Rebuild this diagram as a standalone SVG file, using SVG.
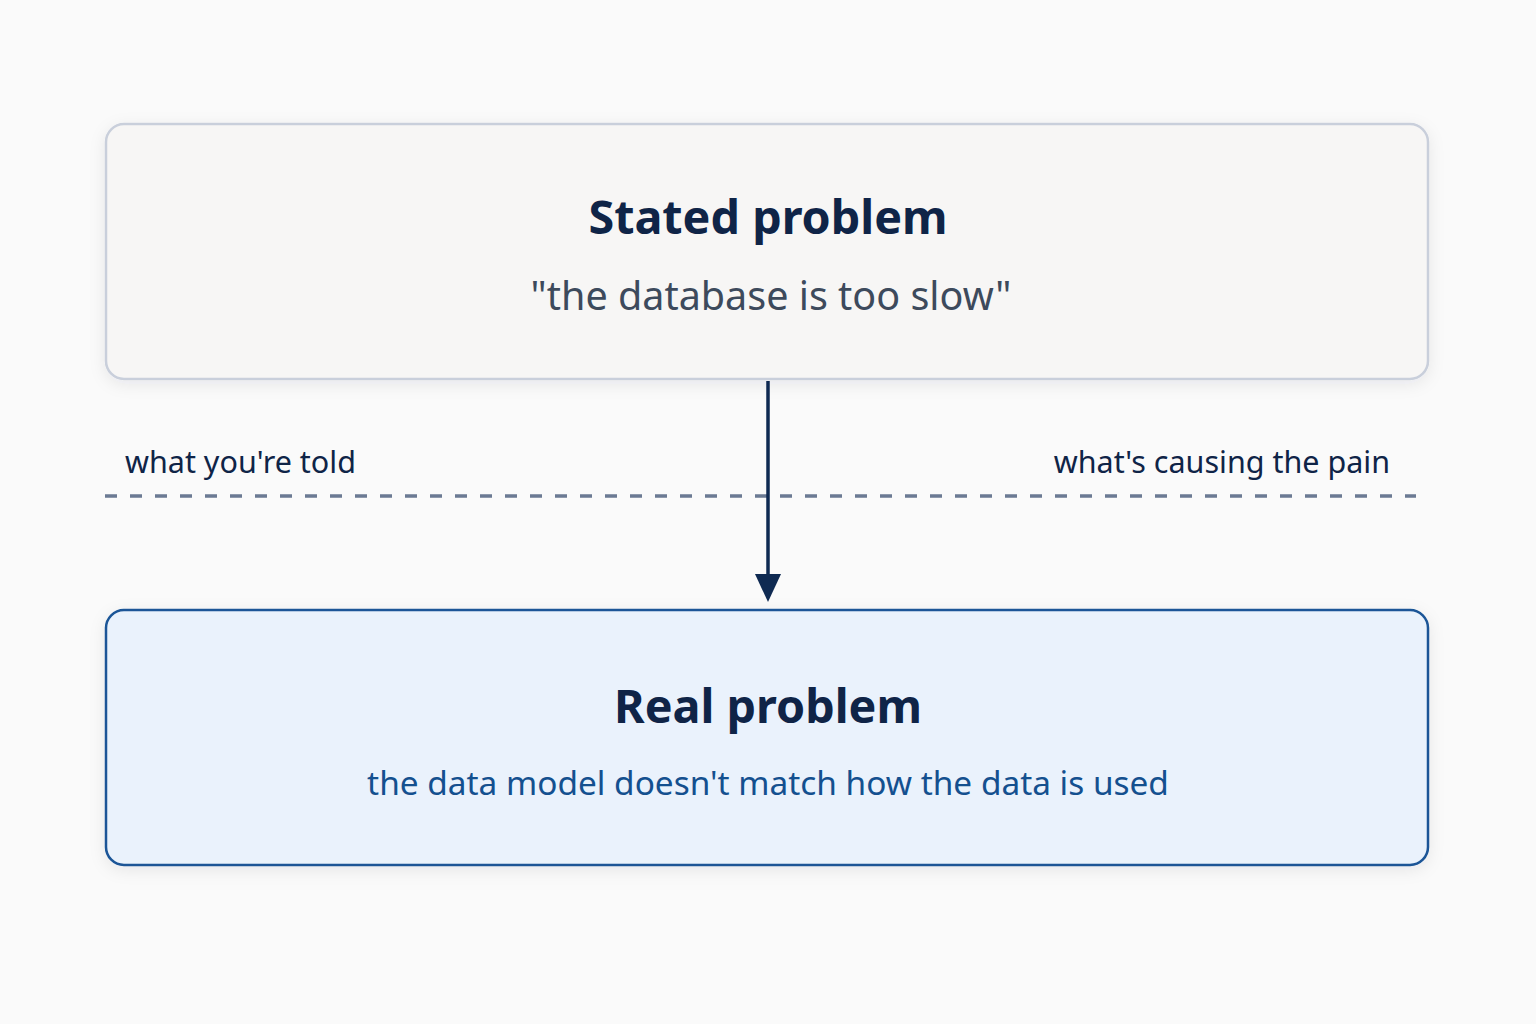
<svg xmlns="http://www.w3.org/2000/svg" width="1536" height="1024" viewBox="0 0 1536 1024">
<defs>
<filter id="sh" x="-10%" y="-20%" width="120%" height="140%">
<feDropShadow dx="0" dy="4" stdDeviation="8" flood-color="#1e2a3a" flood-opacity="0.08"/>
</filter>
<marker id="ah" markerWidth="30" markerHeight="30" viewBox="0 0 30 30" refX="16" refY="15" orient="auto" markerUnits="userSpaceOnUse">
<path d="M0,2 L28,15 L0,28 Z" fill="#0f2a52"/>
</marker>
<style>
text{font-family:"Noto Sans","Open Sans","Liberation Sans",sans-serif}
.title{font-size:46.7px;font-weight:700;fill:#0f2447;text-anchor:middle}
.sub1{font-size:39.5px;fill:#3d4a5c;text-anchor:middle}
.sub2{font-size:33.4px;fill:#14508f;text-anchor:middle}
.lbl{font-size:30.5px;fill:#0f2447}
</style>
</defs>
<rect width="1536" height="1024" fill="#fafafa"/>
<g id="stated">
<rect x="106" y="124" width="1322" height="255" rx="18" fill="#f7f6f5" stroke="#c9cfdb" stroke-width="2.5" filter="url(#sh)"/>
<text class="title" x="768" y="234">Stated problem</text>
<text class="sub1" x="771" y="310">"the database is too slow"</text>
</g>
<g id="real">
<rect x="106" y="610" width="1322" height="255" rx="18" fill="#eaf2fc" stroke="#1a5597" stroke-width="2.5" filter="url(#sh)"/>
<text class="title" x="768" y="723">Real problem</text>
<text class="sub2" x="768" y="795">the data model doesn't match how the data is used</text>
</g>
<g id="divider">
<line x1="105" y1="496" x2="1416" y2="496" stroke="#6b7a93" stroke-width="3.5" stroke-dasharray="12 13"/>
<text class="lbl" x="125" y="473">what you're told</text>
<text class="lbl" x="1390" y="473" text-anchor="end">what's causing the pain</text>
</g>
<g id="connectors">
<line x1="768" y1="381" x2="768" y2="590" stroke="#0f2a52" stroke-width="3.5" marker-end="url(#ah)"/>
</g>
</svg>
